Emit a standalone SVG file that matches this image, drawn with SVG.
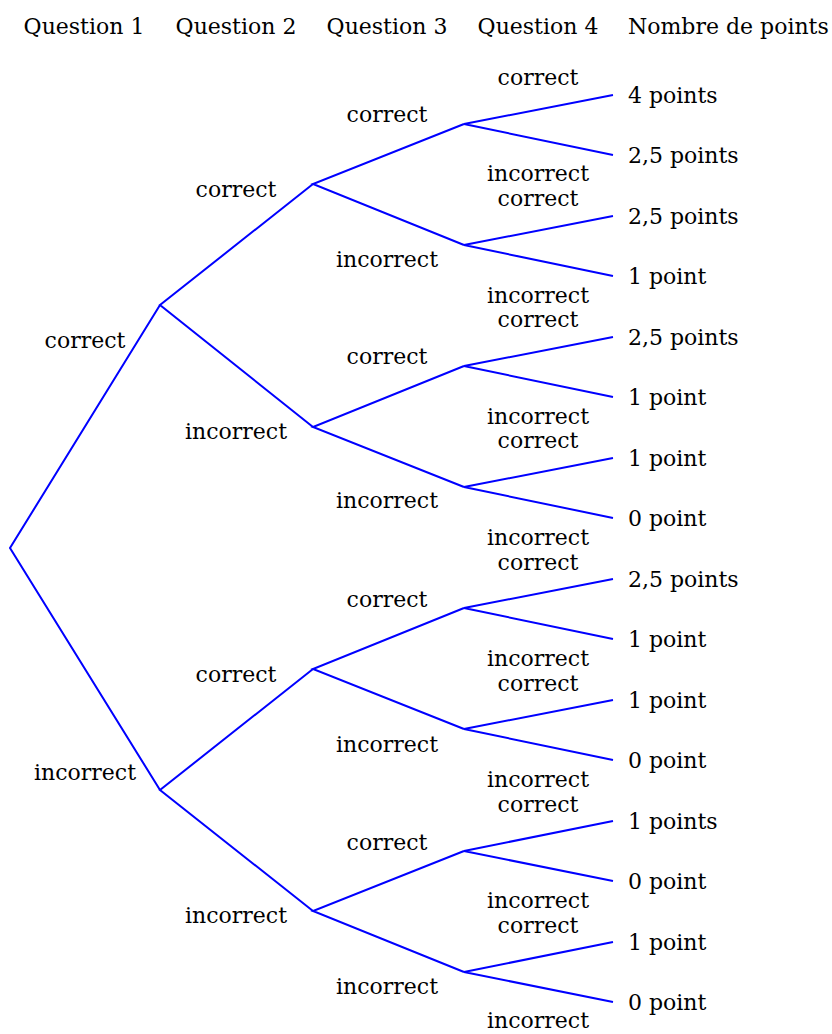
<svg xmlns="http://www.w3.org/2000/svg" width="832" height="1034" viewBox="0 0 832 1034">
  <style>
    text { font-family: "DejaVu Serif", "Liberation Serif", serif; font-size: 22px; fill: #000; }
    .c { text-anchor: middle; }
    .edge { stroke: #0000ff; stroke-width: 2; fill: none; stroke-linejoin: miter; }
  </style>
  <rect width="832" height="1034" fill="#ffffff"/>

  <!-- column headers -->
  <g id="headers">
    <text class="c" x="84" y="34">Question 1</text>
    <text class="c" x="236" y="34">Question 2</text>
    <text class="c" x="387" y="34">Question 3</text>
    <text class="c" x="538" y="34">Question 4</text>
    <text x="628" y="34">Nombre de points</text>
  </g>

  <!-- tree branches -->
  <g id="connectors" class="edge">
    <!-- level 1 -->
    <polyline points="160,305 10,548 160,790"/>
    <!-- level 2 -->
    <polyline points="313,184 160,305 313,427"/>
    <polyline points="313,669 160,790 313,911"/>
    <!-- level 3 -->
    <polyline points="464,124 313,184 464,245"/>
    <polyline points="464,366 313,427 464,487"/>
    <polyline points="464,608 313,669 464,729"/>
    <polyline points="464,851 313,911 464,972"/>
    <!-- level 4 -->
    <polyline points="613,95 464,124 613,155"/>
    <polyline points="613,216 464,245 613,276"/>
    <polyline points="613,337 464,366 613,397"/>
    <polyline points="613,458 464,487 613,518"/>
    <polyline points="613,579 464,608 613,639"/>
    <polyline points="613,700 464,729 613,760"/>
    <polyline points="613,821 464,851 613,881"/>
    <polyline points="613,942 464,972 613,1002"/>
  </g>

  <!-- question 1 answers -->
  <g id="q1">
    <text class="c" x="85" y="348">correct</text>
    <text class="c" x="85" y="780">incorrect</text>
  </g>

  <!-- question 2 answers -->
  <g id="q2">
    <text class="c" x="236" y="197">correct</text>
    <text class="c" x="236" y="439">incorrect</text>
    <text class="c" x="236" y="682">correct</text>
    <text class="c" x="236" y="923">incorrect</text>
  </g>

  <!-- question 3 answers -->
  <g id="q3">
    <text class="c" x="387" y="122">correct</text>
    <text class="c" x="387" y="267">incorrect</text>
    <text class="c" x="387" y="364">correct</text>
    <text class="c" x="387" y="508">incorrect</text>
    <text class="c" x="387" y="607">correct</text>
    <text class="c" x="387" y="752">incorrect</text>
    <text class="c" x="387" y="850">correct</text>
    <text class="c" x="387" y="994">incorrect</text>
  </g>

  <!-- question 4 answers -->
  <g id="q4">
    <text class="c" x="538" y="85">correct</text>
    <text class="c" x="538" y="181">incorrect</text>
    <text class="c" x="538" y="206">correct</text>
    <text class="c" x="538" y="303">incorrect</text>
    <text class="c" x="538" y="327">correct</text>
    <text class="c" x="538" y="424">incorrect</text>
    <text class="c" x="538" y="448">correct</text>
    <text class="c" x="538" y="545">incorrect</text>
    <text class="c" x="538" y="570">correct</text>
    <text class="c" x="538" y="666">incorrect</text>
    <text class="c" x="538" y="691">correct</text>
    <text class="c" x="538" y="787">incorrect</text>
    <text class="c" x="538" y="812">correct</text>
    <text class="c" x="538" y="908">incorrect</text>
    <text class="c" x="538" y="933">correct</text>
    <text class="c" x="538" y="1028">incorrect</text>
  </g>

  <!-- resulting scores -->
  <g id="points">
    <text x="628" y="103">4 points</text>
    <text x="628" y="163">2,5 points</text>
    <text x="628" y="224">2,5 points</text>
    <text x="628" y="284">1 point</text>
    <text x="628" y="345">2,5 points</text>
    <text x="628" y="405">1 point</text>
    <text x="628" y="466">1 point</text>
    <text x="628" y="526">0 point</text>
    <text x="628" y="587">2,5 points</text>
    <text x="628" y="647">1 point</text>
    <text x="628" y="708">1 point</text>
    <text x="628" y="768">0 point</text>
    <text x="628" y="829">1 points</text>
    <text x="628" y="889">0 point</text>
    <text x="628" y="950">1 point</text>
    <text x="628" y="1010">0 point</text>
  </g>
</svg>
